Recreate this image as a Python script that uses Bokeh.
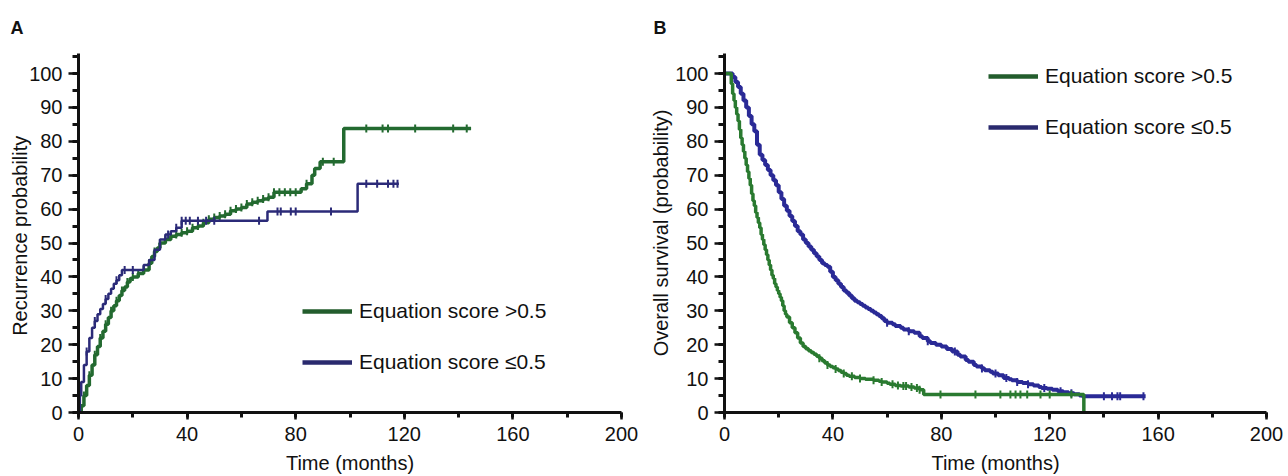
import numpy as np
from bokeh.plotting import figure
from bokeh.layouts import row
from bokeh.models import (Range1d, SingleIntervalTicker, Legend, LegendItem,
                          ColumnDataSource)
from bokeh.embed import file_html
from bokeh.resources import INLINE

# ---------------- data ----------------
# Panel A: recurrence probability (%), step points (time in months, value)
A_hi_t = [0, 1, 2, 3, 4, 5, 6, 7, 8, 9, 10, 11, 12, 13, 14, 15, 16, 17, 18, 19, 20,
          22, 24, 26, 27, 28, 29, 30, 32, 34, 36, 38, 40, 42, 44, 46, 48, 50, 52, 54,
          56, 58, 60, 62, 64, 66, 68, 70, 72, 82, 84, 86, 87, 89, 97.7, 144.6]
A_hi_v = [0, 2, 5, 8, 11, 14, 17, 19.5, 22, 24, 26, 28, 30, 31.5, 33, 34.5, 36, 37, 38.5, 39.5, 40,
          41, 42, 44, 46, 47.5, 48.5, 50, 51, 52, 52.5, 53, 53.5, 54.5, 55, 56, 57, 57.5, 58, 58.5,
          59.5, 60, 60.5, 61.5, 62, 62.5, 63, 63.5, 65, 66, 67.5, 70, 72, 74, 83.8, 83.8]
A_hi_cens = [2, 4, 6, 8, 10, 12, 14, 16, 18, 20, 22, 24, 26, 28, 30, 32, 34, 36, 38, 40,
             42, 44, 46, 48, 50, 52, 54, 56, 58, 60, 62, 64, 66, 68, 70, 72, 74, 76, 78, 80,
             84, 90, 94, 106, 112, 114, 124, 138, 143]

A_lo_t = [0, 0.5, 1, 2, 3, 4, 5, 6, 7, 8, 9, 10, 11, 12, 13, 14, 15, 16, 24, 26, 28, 30,
          32, 34, 36, 38, 69.6, 102.8, 118]
A_lo_v = [0, 5, 9, 14, 18, 22, 25, 27, 29, 30.5, 32, 33.5, 35, 36.5, 38, 39, 40.5, 42, 43.5, 45, 48, 51,
          52.5, 53.5, 54.5, 56.6, 59.3, 67.5, 67.5]
A_lo_cens = [3, 6, 10, 14, 17, 20, 33, 36, 38, 39.5, 41, 44, 47, 50, 66.5, 73.3, 74.5, 78.2,
             80, 93, 106, 110, 114, 116, 117.5]

# Panel B: overall survival (%), step points
B_hi_t = [0, 2, 2.5, 3, 3.5, 4, 4.5, 5, 5.5, 6, 6.5, 7, 7.5, 8, 8.5, 9, 9.5, 10, 10.5, 11,
          11.5, 12, 12.5, 13, 13.5, 14, 14.5, 15, 15.5, 16, 16.5, 17, 17.5, 18, 18.5, 19,
          19.5, 20, 20.5, 21, 21.5, 22, 22.5, 23, 24, 25, 26, 27, 28, 29, 30, 31, 32, 33,
          34, 35, 36, 37, 38, 39, 40, 41, 42, 43, 44, 45, 46, 48, 50, 52, 55, 57, 58, 60,
          61, 63, 65, 68, 70, 72, 73.5, 132.6]
B_hi_v = [100, 100, 97, 94, 92, 90, 88, 86, 83.5, 81, 79, 77, 75, 73, 71, 69, 67, 64.5, 62.5, 61,
          59, 57.5, 56, 54.5, 52.5, 51, 49.5, 48, 46.5, 45, 43.5, 42, 40.5, 39.5, 38, 37,
          36, 35, 34, 33, 31.5, 30, 29, 28.2, 26.5, 25, 23.5, 22, 20.5, 19.5, 18.8, 18.2, 17.7, 17.2,
          16.6, 16, 15.3, 14.6, 14, 13.6, 13.2, 12.8, 12.4, 11.9, 11.5, 11, 10.7, 10.3, 10, 9.8, 9.5, 9.2, 9, 8.6,
          8.3, 8, 7.8, 7.5, 7.2, 6.7, 5.3, 0]
B_hi_cens = [35, 38, 41, 44, 47, 50, 55, 58, 62, 64, 66, 67, 69, 71, 72, 79.7, 92.6, 101.8,
             105.5, 107.4, 109.2, 111.7, 116.6, 120, 128]

B_lo_t = [0, 2, 3, 4, 5, 6, 7, 8, 9, 10, 11, 12, 13, 14, 15, 16, 17, 18, 19, 20, 21, 22, 23,
          24, 25, 26, 27, 28, 29, 30, 31, 32, 33, 34, 35, 36, 37, 38, 39, 40, 41, 42, 43, 44,
          45, 46, 47, 48, 49, 50, 51, 52, 53, 54, 55, 56, 57, 58, 59, 60, 62, 63, 65, 66, 68,
          70, 72, 73, 75, 76, 78, 80, 82, 84, 86, 87, 89, 90, 92, 93, 95, 96, 98, 99, 101,
          103, 105, 106, 108, 110, 112, 114, 116, 117, 119, 121, 123, 125, 127, 129, 131,
          132, 155.4]
B_lo_v = [100, 100, 99, 97.5, 96, 94, 92, 90, 87.5, 85, 83, 79, 76, 74.5, 73, 71.5, 70, 68.5, 67,
          65, 63, 61, 59.5, 58, 56.5, 55, 53.5, 52.5, 51, 50, 49, 48, 47, 46, 45, 44, 43.5, 43,
          41.5, 40, 39, 38, 37, 36, 35.3, 34.5, 33.7, 33, 32.5, 32, 31.5, 31, 30.5, 30, 29.5,
          29, 28.5, 27.8, 27, 26.5, 26, 25.5, 25, 24.5, 24, 23.5, 22.5, 22, 21, 20.5, 20, 19.5,
          18.7, 18, 17, 16.5, 15.5, 15, 14, 13.6, 13, 12.5, 12, 11.5, 11, 10.2, 9.8, 9.5, 9,
          8.7, 8.3, 8, 7.5, 7.2, 7, 6.7, 6.3, 6, 5.7, 5.4, 5, 4.8, 4.8]
B_lo_cens = [60, 68, 75, 85, 95, 100, 104, 108, 112, 118, 124, 128, 140, 143, 145, 146, 154.6]

series_labels = ["Equation score >0.5", "Equation score \u22640.5"]
x_ticks_major = 40
y_ticks_major = 10

FONT = "Liberation Sans"
LEG_GREEN = "#235d2d"
LEG_BLUE = "#2a2a6e"
TXT = "#111111"


def step_value(t, v, c):
    t = np.asarray(t, dtype=float)
    v = np.asarray(v, dtype=float)
    idx = np.searchsorted(t, np.asarray(c, dtype=float), side="right") - 1
    return v[idx]


def make_panel(letter, title_offset, ylabel, width, border_left, border_right, curves,
               legend_loc, ylabel_standoff):
    p = figure(width=width, height=476, output_backend="svg", toolbar_location=None,
               x_range=Range1d(0, 200), y_range=Range1d(0, 105.9),
               min_border_left=border_left, min_border_right=border_right,
               min_border_top=52, min_border_bottom=63, title=letter)
    p.outline_line_color = None
    p.xgrid.visible = False
    p.ygrid.visible = False
    p.background_fill_color = "white"
    p.border_fill_color = "white"

    p.title.align = "left"
    p.title.offset = title_offset
    p.title.standoff = 31
    p.title.text_font = FONT
    p.title.text_font_size = "18px"
    p.title.text_font_style = "bold"
    p.title.text_color = TXT

    p.xaxis.ticker = SingleIntervalTicker(interval=x_ticks_major, num_minor_ticks=2)
    p.yaxis.ticker = SingleIntervalTicker(interval=y_ticks_major, num_minor_ticks=2)
    for ax in (p.xaxis[0], p.yaxis[0]):
        ax.axis_line_width = 3
        ax.axis_line_color = TXT
        ax.major_tick_line_color = TXT
        ax.minor_tick_line_color = TXT
        ax.major_tick_line_width = 2.5
        ax.minor_tick_line_width = 3
        ax.major_tick_in = 0
        ax.minor_tick_in = 0
        ax.major_label_text_font = FONT
        ax.major_label_text_font_size = "20px"
        ax.major_label_text_color = TXT
        ax.axis_label_text_font = FONT
        ax.axis_label_text_font_size = "20px"
        ax.axis_label_text_font_style = "normal"
        ax.axis_label_text_color = TXT
    p.xaxis.major_tick_out = 7
    p.xaxis.minor_tick_out = 5
    p.yaxis.major_tick_out = 10
    p.yaxis.minor_tick_out = 6
    p.xaxis.major_label_standoff = 7
    p.xaxis.axis_label_standoff = 8
    p.xaxis.axis_label = "Time (months)"
    p.yaxis.major_label_standoff = 6
    p.yaxis.axis_label_standoff = ylabel_standoff
    p.yaxis.axis_label = ylabel

    for (t, v, cens, color, lw) in curves:
        p.step(x=t, y=v, mode="after", line_color=color, line_width=lw)
        cy = step_value(t, v, cens)
        p.scatter(x=cens, y=cy, marker="dash", angle=np.pi / 2, size=8,
                  line_color=color, line_width=2)

    # legend (renderers without visible data, only for the legend glyphs)
    items = []
    for lab, col in zip(series_labels, [LEG_GREEN, LEG_BLUE]):
        src = ColumnDataSource(data=dict(x=[np.nan], y=[np.nan]))
        r1 = p.line(x="x", y="y", source=src, line_color=col, line_width=4.5)
        r2 = p.scatter(x="x", y="y", source=src, marker="dash", angle=np.pi / 2,
                       size=9, line_color=col, line_width=2.5)
        items.append(LegendItem(label=lab, renderers=[r1, r2]))
    leg = Legend(items=items, location=legend_loc, orientation="vertical",
                 glyph_width=50, glyph_height=20, label_height=20, label_standoff=7,
                 spacing=27, padding=0, margin=0, border_line_color=None,
                 background_fill_alpha=0, label_text_font=FONT,
                 label_text_font_size="21px", label_text_color=TXT)
    p.add_layout(leg)
    return p


pA = make_panel("A", -68, "Recurrence  probability", 640, 78, 19,
                [(A_hi_t, A_hi_v, A_hi_cens, "#236a30", 3.5),
                 (A_lo_t, A_lo_v, A_lo_cens, "#2b2a78", 2.5)],
                (224, 38), -5)
pB = make_panel("B", -71, "Overall survival (probability)", 648, 84, 22,
                [(B_lo_t, B_lo_v, B_lo_cens, "#2a2a96", 4),
                 (B_hi_t, B_hi_v, B_hi_cens, "#2a7a30", 3.5)],
                (264, 273), 0)

layout = row(pA, pB)
open("out.html", "w").write(file_html(layout, INLINE))
